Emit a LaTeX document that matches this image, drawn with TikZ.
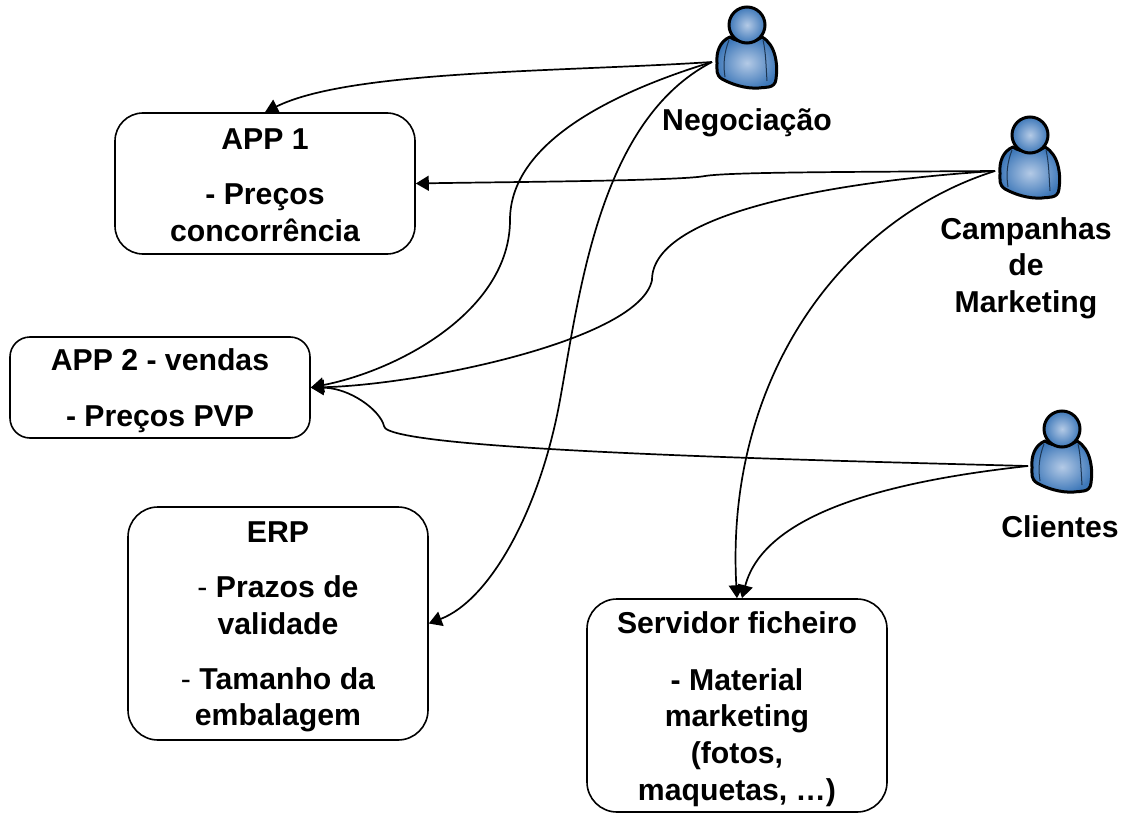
\documentclass[tikz,border=0pt]{standalone}
\usepackage{fontspec}
\setmainfont{Liberation Sans}
\usetikzlibrary{arrows.meta}
\definecolor{pblue}{RGB}{62,120,185}
\definecolor{plight}{RGB}{180,202,230}
\newcommand{\fs}{\fontsize{30.2}{36.6}\selectfont\bfseries}
\newcommand{\rg}{\mdseries}
\newcommand{\tp}[1]{\rule{0pt}{#1pt}}
\tikzset{
  x=1pt,y=-1pt,
  appbox/.style={draw=black,line width=1.6pt,fill=white,align=center,inner sep=0pt,font=\fs},
  lbl/.style={align=center,font=\fs,inner sep=0pt},
  conn/.style={draw=black,line width=1.7pt,-{Triangle[length=13pt,width=15pt]}},
  person/.pic={
    \shade[inner color=plight,outer color=pblue,draw=black,line width=3pt,line join=round]
      (-17,12) .. controls (-27,16) and (-31,27) .. (-30,38)
      .. controls (-30,46) and (-31,50) .. (-25,54)
      .. controls (-16,59) and (-2,64) .. (12,63)
      .. controls (18,62) and (28,64) .. (29,54)
      .. controls (31,40) and (29,20) .. (15,12)
      .. controls (7,18) and (-9,18) .. (-17,12) -- cycle;
    \draw[pblue!45!black,line width=1pt] (-18,15) .. controls (-23,28) and (-24,40) .. (-22,52);
    \draw[pblue!45!black,line width=1pt] (16,15) .. controls (19,28) and (19,42) .. (20,56);
    \shade[inner color=plight,outer color=pblue,draw=black,line width=3pt] (0,0) circle (18);
  }
}
\begin{document}
\begin{tikzpicture}
\useasboundingbox (0,0) rectangle (1121,813);
\node[appbox,rounded corners=28pt,minimum width=300pt,minimum height=141pt] (app1) at (265,183.5) {\tp{24}APP 1\\[19pt]- Preços\\concorrência};
\node[appbox,rounded corners=20pt,minimum width=300pt,minimum height=101pt] (app2) at (160,387.5) {\tp{28}APP 2 - vendas\\[19pt]- Preços PVP};
\node[appbox,rounded corners=30pt,minimum width=300pt,minimum height=233pt] (erp) at (278,623.5) {\tp{28}ERP\\[18.4pt]{\rg-} Prazos de\\validade\\[18.4pt]{\rg-} Tamanho da\\embalagem};
\node[appbox,rounded corners=30pt,minimum width=300pt,minimum height=213pt] (srv) at (737,705.5) {\tp{29}Servidor ficheiro\\[20pt]- Material\\marketing\\(fotos,\\maquetas, …)};

\pic at (747,25) {person};
\pic at (1030,135) {person};
\pic at (1062,429) {person};
\coordinate (neg) at (712,62);
\coordinate (cam) at (995,171);
\coordinate (cli) at (1028,466);

\node[lbl] (negl) at (747,123) {Negociação};
\node[lbl] (caml) at (1026,268) {Campanhas\\de\\Marketing};
\node[lbl] (clil) at (1060,527) {Clientes};

\draw[conn] (neg) .. controls (560,72) and (350,70) .. (app1.north);
\draw[conn] (neg) .. controls (620,90) and (510,140) .. (510,220) .. controls (510,310) and (400,370) .. (app2.east);
\draw[conn] (neg) .. controls (600,120) and (580,290) .. (560,400) .. controls (540,510) and (490,600) .. (erp.east);
\draw[conn] (cam) .. controls (850,172) and (730,172) .. (705,176) .. controls (680,181) and (500,182) .. (app1.east);
\draw[conn] (cam) .. controls (850,180) and (652,210) .. (652,280) .. controls (640,340) and (420,385) .. (app2.east);
\draw[conn] (cam) .. controls (840,220) and (725,380) .. (srv.north);
\draw[conn] (cli) .. controls (800,460) and (384,450) .. (384,426) .. controls (380,410) and (350,388) .. (app2.east);
\draw[conn] (cli) .. controls (900,480) and (765,510) .. ([xshift=5pt]srv.north);
\end{tikzpicture}
\end{document}
